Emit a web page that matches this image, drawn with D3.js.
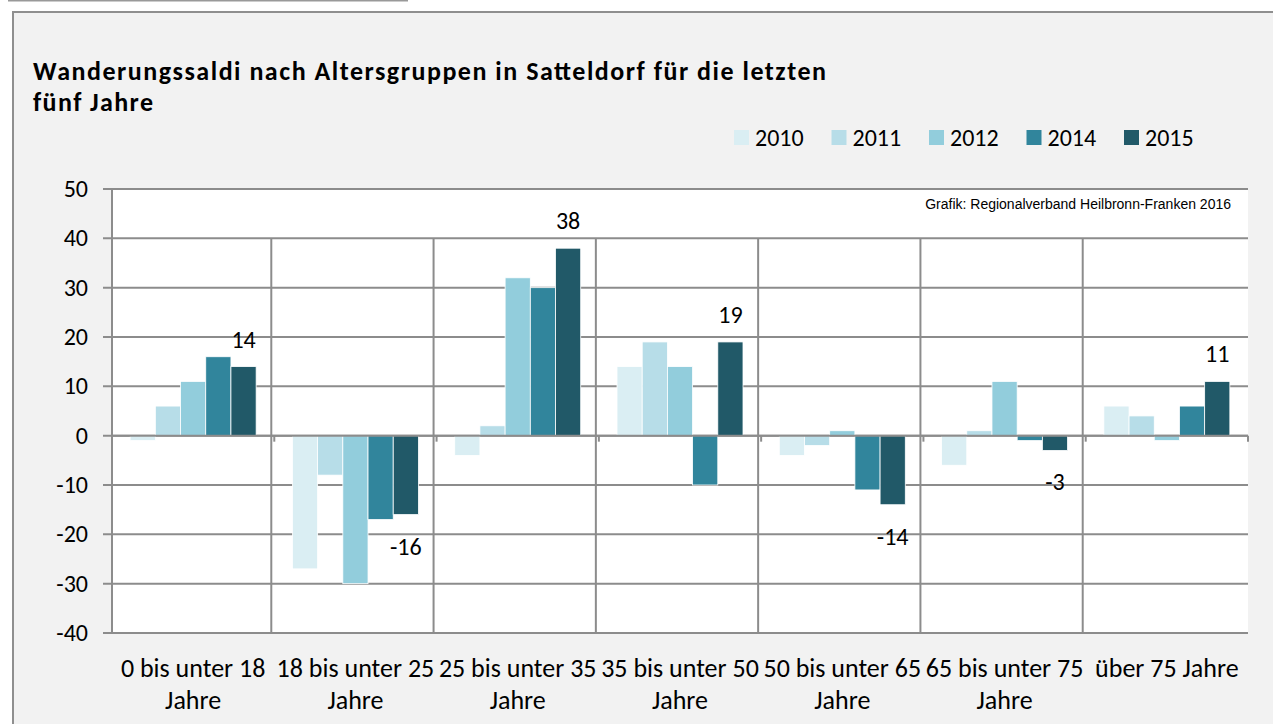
<!DOCTYPE html>
<html>
<head>
	<meta charset="utf-8">
	<title>Wanderungssaldi</title>
	<style>
		body { margin: 0; background: #fff; }
		text { font-family: Carlito, Lato, "Open Sans", sans-serif; }
	</style>
</head>
<body>
	<svg id="container" width="1273" height="724"></svg>
</body>
<script src="https://d3js.org/d3.v7.min.js"></script>
<script>
	// data
	const categories = ["0 bis unter 18|Jahre", "18 bis unter 25|Jahre", "25 bis unter 35|Jahre",
		"35 bis unter 50|Jahre", "50 bis unter 65|Jahre", "65 bis unter 75|Jahre", "über 75 Jahre"]
	const years = ["2010", "2011", "2012", "2014", "2015"]
	const v2010 = [-1, -27, -4, 14, -4, -6, 6]
	const v2011 = [6, -8, 2, 19, -2, 1, 4]
	const v2012 = [11, -30, 32, 14, 1, 11, -1]
	const v2014 = [16, -17, 30, -10, -11, -1, 6]
	const v2015 = [14, -16, 38, 19, -14, -3, 11]
	const yTicks = [50, 40, 30, 20, 10, 0, -10, -20, -30, -40]
	const colors = ["#daeef3", "#b7dde8", "#92cddc", "#31859c", "#215968"]

	const series = [v2010, v2011, v2012, v2014, v2015]
	const svg = d3.select("#container")

	// outer frame
	svg.append("line").attr("x1", 8).attr("x2", 408).attr("y1", 0.5).attr("y2", 0.5)
		.attr("stroke", "#999").attr("stroke-width", 2)
	svg.append("rect").attr("x", 13).attr("y", 12).attr("width", 1300).attr("height", 800)
		.attr("fill", "#f2f2f2").attr("stroke", "#8f8f8f").attr("stroke-width", 2)

	// title
	const title = svg.append("text").attr("x", 33).attr("font-weight", "bold")
		.attr("font-size", 26).attr("fill", "#000")
	title.append("tspan").attr("x", 33).attr("y", 80).attr("textLength", 793).attr("lengthAdjust", "spacing")
		.text("Wanderungssaldi nach Altersgruppen in Satteldorf für die letzten")
	title.append("tspan").attr("x", 33).attr("y", 111).attr("textLength", 120).attr("lengthAdjust", "spacing")
		.text("fünf Jahre")

	// legend
	const legend = svg.selectAll("g.leg").data(years).enter().append("g")
		.attr("transform", (d, i) => `translate(${734 + i * 97.5},130)`)
	legend.append("rect").attr("width", 15).attr("height", 15).attr("fill", (d, i) => colors[i])
	legend.append("text").attr("x", 21).attr("y", 16).attr("font-size", 24).text(d => d)

	const left = 112, right = 1248
	const x = d3.scaleBand().domain(categories).range([left, right])
	const xs = d3.scaleBand().domain(years).range([0, x.bandwidth()]).paddingOuter(0.72)
	const y = d3.scaleLinear().domain([-40, 50]).range([633, 189])

	// plot area
	svg.append("rect").attr("x", left).attr("y", y(50)).attr("width", right - left)
		.attr("height", y(-40) - y(50)).attr("fill", "#fff")

	// horizontal gridlines
	svg.selectAll("line.grid").data(yTicks).enter().append("line")
		.attr("x1", left - 9).attr("x2", right).attr("y1", d => y(d)).attr("y2", d => y(d))
		.attr("stroke", "#8c8c8c").attr("stroke-width", 2)

	// vertical separators
	svg.selectAll("line.sep").data(categories.slice(1)).enter().append("line")
		.attr("x1", d => x(d) - 3).attr("x2", d => x(d) - 3)
		.attr("y1", y(40)).attr("y2", y(-40))
		.attr("stroke", "#8c8c8c").attr("stroke-width", 2)

	// y axis
	svg.append("line").attr("x1", left).attr("x2", left).attr("y1", y(50)).attr("y2", y(-40))
		.attr("stroke", "#8c8c8c").attr("stroke-width", 2)
	svg.selectAll("text.ytick").data(yTicks).enter().append("text")
		.attr("x", 88).attr("y", d => y(d) + 8).attr("text-anchor", "end")
		.attr("font-size", 24).text(d => d)

	// bars
	years.forEach((yr, si) => {
		svg.selectAll("rect.s" + si).data(categories).enter().append("rect")
			.attr("x", d => x(d) + xs(yr))
			.attr("width", xs.bandwidth())
			.attr("y", (d, i) => y(Math.max(0, series[si][i])))
			.attr("height", (d, i) => Math.abs(y(series[si][i]) - y(0)))
			.attr("fill", colors[si])
			.attr("stroke", "#fff").attr("stroke-width", 0.8)
	})

	// zero line with ticks
	svg.append("line").attr("x1", left).attr("x2", right).attr("y1", y(0)).attr("y2", y(0))
		.attr("stroke", "#8c8c8c").attr("stroke-width", 2)
	svg.selectAll("line.xtick").data(categories.slice(1).concat([null])).enter().append("line")
		.attr("x1", d => d ? x(d) : right).attr("x2", d => d ? x(d) : right)
		.attr("y1", y(0)).attr("y2", y(0) + 6)
		.attr("stroke", "#8c8c8c").attr("stroke-width", 2)

	// data labels for 2015
	svg.selectAll("text.lab").data(categories).enter().append("text")
		.attr("x", d => x(d) + xs("2015") + xs.bandwidth() / 2)
		.attr("y", (d, i) => v2015[i] >= 0 ? y(v2015[i]) - 19 : y(v2015[i]) + 40)
		.attr("text-anchor", "middle").attr("font-size", 24)
		.text((d, i) => v2015[i])

	// x labels
	const xl = svg.selectAll("text.xl").data(categories).enter().append("text")
		.attr("text-anchor", "middle").attr("font-size", 26)
	xl.append("tspan").attr("x", d => x(d) + x.bandwidth() / 2).attr("y", 677).text(d => d.split("|")[0])
	xl.append("tspan").attr("x", d => x(d) + x.bandwidth() / 2).attr("y", 709).text(d => d.split("|")[1] || "")

	// source
	svg.append("text").attr("x", 1231).attr("y", 209).attr("text-anchor", "end")
		.style("font-family", "Arial, 'Liberation Sans', sans-serif").attr("font-size", 14)
		.text("Grafik: Regionalverband Heilbronn-Franken 2016")
</script>
</html>
